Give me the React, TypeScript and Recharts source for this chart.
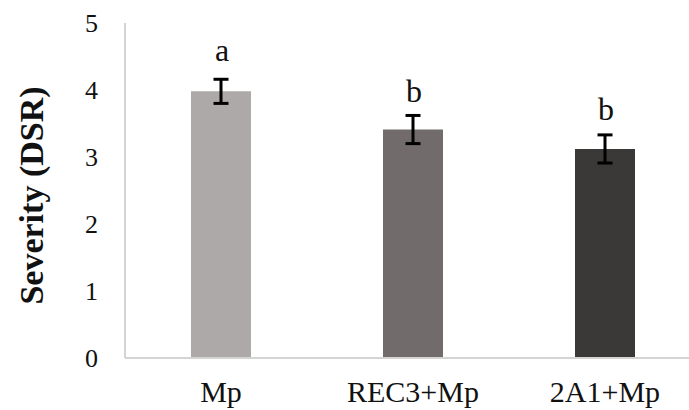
import {
  ComposedChart, Bar, Line, XAxis, YAxis, ErrorBar, Cell, LabelList,
} from 'recharts'

const categories = ['Mp', 'REC3+Mp', '2A1+Mp']
const severity = [3.98, 3.41, 3.12]
const stdErr = [0.18, 0.21, 0.21]
const letters = ['a', 'b', 'b']
// baseline height (in DSR units) where each significance letter sits
const letterY = [4.44, 3.82, 3.55]
const barColors = ['#ADA9A8', '#716C6B', '#3B3938']
const yTicks = [0, 1, 2, 3, 4, 5]

const data = categories.map((name, i) => ({
  name,
  value: severity[i],
  err: stdErr[i],
  letter: letters[i],
  letterY: letterY[i],
}))

const font = '"Liberation Serif", "Times New Roman", serif'

function renderLetter(props: any) {
  const { x, y, value } = props
  return (
    <text x={x + 1} y={y} textAnchor="middle" fontFamily={font} fontSize={32} fill="#111">
      {value}
    </text>
  )
}

function renderYLabel(props: any) {
  const vb = props.viewBox
  const cy = vb.y + vb.height / 2 + 5
  return (
    <text
      x={31}
      y={cy}
      transform={`rotate(-90, 31, ${cy})`}
      textAnchor="middle"
      dominantBaseline="central"
      fontFamily={font}
      fontWeight="bold"
      fontSize={34}
      fill="#111"
    >
      Severity (DSR)
    </text>
  )
}

export default function App() {
  return (
    <div style={{ position: 'absolute', left: 0, top: 0, width: 689, height: 410, overflow: 'hidden', background: '#fff' }}>
      <ComposedChart
        width={701}
        height={410}
        data={data}
        margin={{ top: 23, right: 0, bottom: 0, left: 0 }}
      >
        <XAxis
          dataKey="name"
          height={52}
          tickLine={false}
          tickSize={0}
          tickMargin={23}
          axisLine={{ stroke: '#D4D4D4', strokeWidth: 2 }}
          tick={{ fontFamily: font, fontSize: 30, fill: '#111' }}
        />
        <YAxis
          width={125}
          domain={[0, 5]}
          ticks={yTicks}
          tickLine={false}
          tickSize={0}
          tickMargin={27}
          axisLine={{ stroke: '#D4D4D4', strokeWidth: 2 }}
          tick={{ fontFamily: font, fontSize: 26, fill: '#111' }}
          label={{ content: renderYLabel }}
        />
        <Bar dataKey="value" barSize={60} isAnimationActive={false}>
          {data.map((d, i) => (
            <Cell key={d.name} fill={barColors[i]} />
          ))}
          <ErrorBar dataKey="err" width={7.5} stroke="#000" strokeWidth={3} />
        </Bar>
        <Line
          dataKey="letterY"
          stroke="none"
          dot={false}
          activeDot={false}
          isAnimationActive={false}
        >
          <LabelList dataKey="letter" content={renderLetter} />
        </Line>
      </ComposedChart>
    </div>
  )
}
